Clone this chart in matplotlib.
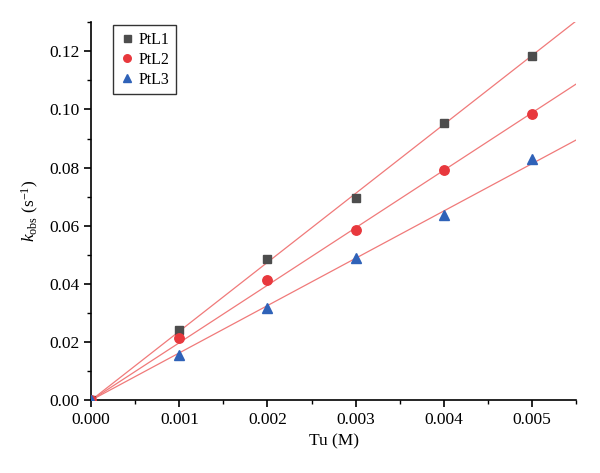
import matplotlib
matplotlib.use("Agg")
import matplotlib.pyplot as plt
import numpy as np
from matplotlib.ticker import MultipleLocator

plt.rcParams["font.family"] = ["Liberation Serif", "DejaVu Serif"]
plt.rcParams["mathtext.fontset"] = "custom"
plt.rcParams["mathtext.rm"] = "Liberation Serif"
plt.rcParams["mathtext.it"] = "Liberation Serif:italic"

tuConc = [0.0, 0.001, 0.002, 0.003, 0.004, 0.005]
kPtL1 = [0.0, 0.0240, 0.0487, 0.0697, 0.0955, 0.1183]
kPtL2 = [0.0, 0.0215, 0.0413, 0.0585, 0.0790, 0.0983]
kPtL3 = [0.0, 0.0155, 0.0318, 0.0488, 0.0638, 0.0828]
seriesNames = ["PtL1", "PtL2", "PtL3"]

fig = plt.figure(figsize=(6, 4.73), dpi=100)
ax = fig.add_axes([0.152, 0.154, 0.808, 0.799])

styles = [("s", "#4d4d4d", 6.3), ("o", "#e8383d", 6.8), ("^", "#2f62b8", 7.5)]
xFit = np.array([0.0, 0.0055])
x = np.array(tuConc)
for name, values, (marker, color, size) in zip(seriesNames, [kPtL1, kPtL2, kPtL3], styles):
    y = np.array(values)
    # least-squares line forced through the origin
    slope = np.sum(x * y) / np.sum(x * x)
    ax.plot(xFit, slope * xFit, color="#f07a7a", lw=0.9, zorder=1)
    ax.plot(x, y, linestyle="none", marker=marker, color=color, markersize=size,
            markeredgecolor=color, label=name, zorder=3)

ax.set_xlim(0, 0.0055)
ax.set_ylim(0, 0.13)
ax.xaxis.set_major_locator(MultipleLocator(0.001))
ax.xaxis.set_minor_locator(MultipleLocator(0.0005))
ax.yaxis.set_major_locator(MultipleLocator(0.02))
ax.yaxis.set_minor_locator(MultipleLocator(0.01))
ax.xaxis.set_major_formatter(plt.FormatStrFormatter("%.3f"))
ax.yaxis.set_major_formatter(plt.FormatStrFormatter("%.2f"))

for side in ["top", "right"]:
    ax.spines[side].set_visible(False)
for side in ["left", "bottom"]:
    ax.spines[side].set_linewidth(1.2)
ax.tick_params(which="major", direction="out", length=5, width=1.2, labelsize=12.5)
ax.tick_params(which="minor", direction="out", length=3, width=1.0)

ax.set_xlabel("Tu (M)", fontsize=12.5, labelpad=4)
ax.set_ylabel(r"$k_{\mathrm{obs}}$ (s$^{-1}$)", fontsize=12.5, labelpad=6)

leg = ax.legend(loc="upper left", bbox_to_anchor=(0.045, 0.992), fontsize=11.5, frameon=True,
                fancybox=False, edgecolor="black", handletextpad=0.2, handlelength=1.0,
                borderpad=0.4, labelspacing=0.25, borderaxespad=0.0, markerscale=0.8)
leg.get_frame().set_linewidth(1.0)

fig.savefig("out.png", dpi=100)
